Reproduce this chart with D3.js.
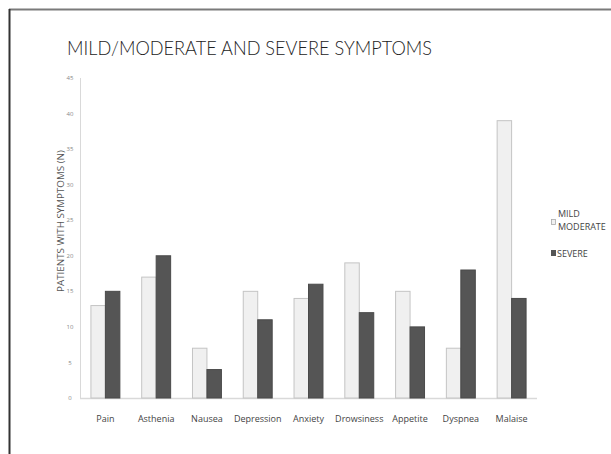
<!DOCTYPE html>
<html><head><meta charset="utf-8">
<script src="https://cdn.jsdelivr.net/npm/d3@7"></script>
<style>html,body{margin:0;padding:0;background:#fff;overflow:hidden}</style>
</head><body>
<svg id="c" width="611" height="454"></svg>
<script>
const categories = ["Pain","Asthenia","Nausea","Depression","Anxiety","Drowsiness","Appetite","Dyspnea","Malaise"];
const mildModerate = [13,17,7,15,14,19,15,7,39];
const severe = [15,20,4,11,16,12,10,18,14];
const yTicks = [0,5,10,15,20,25,30,35,40,45];
const seriesNames = ["MILD/MODERATE","SEVERE"];

const svg = d3.select("#c");
// frame
svg.append("line").attr("x1",9).attr("x2",611).attr("y1",9.5).attr("y2",9.5).attr("stroke","#7a7a7a").attr("stroke-width",2);
svg.append("line").attr("x1",9.5).attr("x2",9.5).attr("y1",9).attr("y2",454).attr("stroke","#333").attr("stroke-width",2);

svg.append("text").attr("x",67).attr("y",55).attr("font-family","Lato, 'Open Sans', sans-serif").attr("font-weight",300)
  .attr("font-size",19).attr("fill","#222").attr("textLength",365).attr("lengthAdjust","spacingAndGlyphs")
  .text("MILD/MODERATE AND SEVERE SYMPTOMS");

const x = d3.scaleBand().domain(categories).range([80,537]).padding(0);
const y = d3.scaleLinear().domain([0,45]).range([398,78]);
const bw = x.step()*0.285;

// axes lines
svg.append("line").attr("x1",80.5).attr("x2",80.5).attr("y1",y(45)).attr("y2",y(0)).attr("stroke","#d9d9d9");
svg.append("line").attr("x1",80).attr("x2",537).attr("y1",y(0)+0.5).attr("y2",y(0)+0.5).attr("stroke","#d9d9d9").attr("stroke-width",1.5);

svg.append("g").selectAll("text").data(yTicks).join("text")
  .attr("x",70).attr("y",d=>y(d)).attr("dy","0.35em").attr("text-anchor","middle")
  .attr("font-family","'Open Sans', sans-serif").attr("font-size",6).attr("fill","#888").text(d=>d);

svg.append("text").attr("transform",`translate(64,221) rotate(-90)`).attr("text-anchor","middle")
  .attr("font-family","'Open Sans', sans-serif").attr("font-size",9.8).attr("fill","#555")
  .text("PATIENTS WITH SYMPTOMS (N)");

const g = svg.append("g");
g.selectAll("rect.m").data(categories).join("rect").attr("class","m")
  .attr("x",(d)=>x(d)+x.bandwidth()/2-bw).attr("width",bw)
  .attr("y",(d,i)=>y(mildModerate[i])).attr("height",(d,i)=>y(0)-y(mildModerate[i]))
  .attr("fill","#f0f0f0").attr("stroke","#c4c4c4").attr("stroke-width",1);
g.selectAll("rect.s").data(categories).join("rect").attr("class","s")
  .attr("x",(d)=>x(d)+x.bandwidth()/2).attr("width",bw)
  .attr("y",(d,i)=>y(severe[i])).attr("height",(d,i)=>y(0)-y(severe[i]))
  .attr("fill","#555").attr("stroke","#4a4a4a").attr("stroke-width",1);

svg.append("g").selectAll("text").data(categories).join("text")
  .attr("x",d=>x(d)+x.bandwidth()/2).attr("y",422).attr("text-anchor","middle")
  .attr("font-family","'Open Sans', sans-serif").attr("font-size",9).attr("fill","#444").text(d=>d);

// legend
const lf = "'Open Sans', sans-serif";
svg.append("rect").attr("x",551.5).attr("y",219.5).attr("width",4).attr("height",5).attr("fill","#f0f0f0").attr("stroke","#aaa").attr("stroke-width",0.8);
svg.append("text").attr("x",558).attr("y",217).attr("font-family",lf).attr("font-size",9).attr("fill","#444").text("MILD");
svg.append("text").attr("x",558).attr("y",229.5).attr("font-family",lf).attr("font-size",9).attr("fill","#444").text("MODERATE");
svg.append("rect").attr("x",551).attr("y",250).attr("width",5).attr("height",6).attr("fill","#555");
svg.append("text").attr("x",557).attr("y",257).attr("font-family",lf).attr("font-size",9).attr("fill","#444").text(seriesNames[1]);
</script>
</body></html>
